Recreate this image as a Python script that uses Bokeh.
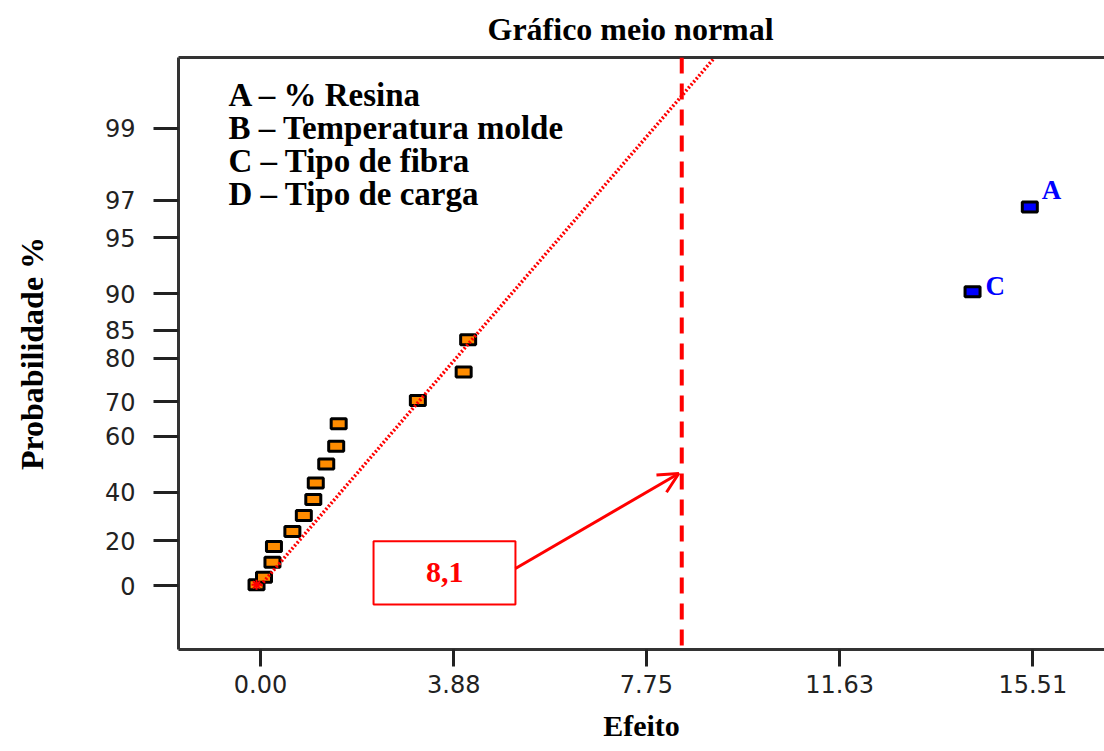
from statistics import NormalDist
from bokeh.plotting import figure
from bokeh.models import (Range1d, FixedTicker, LinearAxis, Label, Span, Arrow, OpenHead,
                          BoxAnnotation, ColumnDataSource, PrintfTickFormatter, CustomJSTickFormatter)
from bokeh.embed import file_html
from bokeh.resources import INLINE

# ---------------- data ----------------
effects = [-0.08, 0.07, 0.24, 0.27, 0.64, 0.87, 1.06, 1.11, 1.32, 1.52, 1.57, 3.16, 4.08, 4.17]
probs = [0.3, 3.7, 10.4, 17.4, 23.9, 30.7, 37.2, 43.6, 50.6, 56.7, 63.8, 70.3, 77.1, 83.4]

sig_names = ["A", "C"]
sig_effects = [15.45, 14.30]
sig_probs = [96.7, 90.2]

fit_effects = [0.0, 9.10]
fit_probs = [0.0, 99.7]

threshold = 8.46
threshold_label = "8,1"

y_tick_probs = [0, 20, 40, 60, 70, 80, 85, 90, 95, 97, 99]
x_ticks = [0.00, 3.88, 7.75, 11.63, 15.51]

title_text = "Gr\u00e1fico meio normal"
legend_lines = ["A \u2013 % Resina", "B \u2013 Temperatura molde",
                "C \u2013 Tipo de fibra", "D \u2013 Tipo de carga"]

# ---------------- half-normal probability scale ----------------
nd = NormalDist()


def hn(p):
    return nd.inv_cdf(0.5 + p / 200.0)


SERIF = "Liberation Serif"

p = figure(width=1104, height=751,
           x_range=Range1d(-1.647, 16.95), y_range=Range1d(-0.3606, 2.975),
           output_backend="svg", toolbar_location=None,
           min_border_left=178, min_border_right=0, min_border_top=57, min_border_bottom=102,
           background_fill_color="white", border_fill_color="white")
p.outline_line_color = None
p.grid.visible = False

# title
p.title.text = title_text
p.title.align = "left"
p.title.offset = 309
p.title.vertical_align = "top"
p.title.text_font = SERIF
p.title.text_font_style = "bold"
p.title.text_font_size = "32px"
p.title.text_color = "black"
if "standoff" in p.title.properties():
    p.title.standoff = 18

# x axis
xa = p.xaxis[0]
xa.ticker = FixedTicker(ticks=x_ticks)
xa.formatter = PrintfTickFormatter(format="%.2f")
xa.major_tick_out = 17
xa.major_tick_in = 0
xa.major_tick_line_width = 3
xa.major_tick_line_color = "#222222"
xa.minor_tick_line_color = None
xa.axis_line_width = 3
xa.axis_line_color = "#333333"
xa.major_label_standoff = 8
xa.major_label_text_font = "DejaVu Sans"
xa.major_label_text_font_size = "24px"
xa.major_label_text_color = "#222222"
xa.axis_label = "Efeito"
xa.axis_label_text_font = SERIF
xa.axis_label_text_font_style = "bold"
xa.axis_label_text_font_size = "30px"
xa.axis_label_text_color = "black"
xa.axis_label_standoff = 13

# y axis (half-normal)
y_tick_pos = [hn(v) for v in y_tick_probs]
ya = p.yaxis[0]
ya.ticker = FixedTicker(ticks=y_tick_pos)
ya.formatter = CustomJSTickFormatter(
    args=dict(tpos=y_tick_pos, tlab=[str(v) for v in y_tick_probs]),
    code="""
    for (let i = 0; i < tpos.length; i++) {
        if (Math.abs(tpos[i] - tick) < 1e-6) { return tlab[i]; }
    }
    return '';
    """)
ya.major_tick_out = 25
ya.major_tick_in = 0
ya.major_tick_line_width = 3
ya.major_tick_line_color = "#222222"
ya.minor_tick_line_color = None
ya.axis_line_width = 3
ya.axis_line_color = "#333333"
ya.major_label_standoff = 18
ya.major_label_text_font = "DejaVu Sans"
ya.major_label_text_font_size = "24px"
ya.major_label_text_color = "#222222"
ya.axis_label = "Probabilidade %"
ya.axis_label_text_font = SERIF
ya.axis_label_text_font_style = "bold"
ya.axis_label_text_font_size = "32px"
ya.axis_label_text_color = "black"
ya.axis_label_standoff = 52

# top border line
top = LinearAxis(ticker=FixedTicker(ticks=[]), major_tick_out=0, major_tick_in=0,
                 minor_tick_out=0, minor_tick_in=0, major_label_text_font_size="0px",
                 axis_line_width=3, axis_line_color="#333333")
p.add_layout(top, "above")

# points
src = ColumnDataSource(dict(x=effects, y=[hn(v) for v in probs]))
p.rect("x", "y", width=15, height=10, width_units="screen", height_units="screen",
       fill_color="#FF8C00", line_color="black", line_width=3, source=src)

sig_src = ColumnDataSource(dict(x=sig_effects, y=[hn(v) for v in sig_probs], name=sig_names))
p.rect("x", "y", width=15, height=10, width_units="screen", height_units="screen",
       fill_color="#0000FF", line_color="black", line_width=3, source=sig_src)

# fitted line
p.line(fit_effects, [hn(v) for v in fit_probs], line_color="red", line_width=3.5, line_dash="2 2")
p.scatter([effects[0]], [hn(probs[0])], marker="asterisk", size=10, line_color="red", line_width=2)

# labels for significant effects
label_offsets = {"A": (12, 17), "C": (13, 6)}
for nm, ex, pr in zip(sig_names, sig_effects, sig_probs):
    dx, dy = label_offsets[nm]
    p.add_layout(Label(x=ex, y=hn(pr), text=nm, x_offset=dx, y_offset=dy,
                       text_font=SERIF, text_font_style="bold", text_font_size="27px",
                       text_color="#0000FF", text_baseline="middle"))

# threshold line
p.add_layout(Span(location=threshold, dimension="height", line_color="red",
                  line_width=4, line_dash="16 10"))

# box with value and arrow
p.add_layout(BoxAnnotation(left=2.27, right=5.12, bottom=-0.107, top=0.25,
                           fill_color="white", fill_alpha=1.0,
                           line_color="red", line_width=2, line_alpha=1.0))
p.add_layout(Label(x=3.70, y=0.073, text=threshold_label, text_align="center",
                   text_baseline="middle", text_font=SERIF, text_font_style="bold",
                   text_font_size="30px", text_color="red"))
p.add_layout(Arrow(end=OpenHead(size=20, line_color="red", line_width=3),
                   x_start=5.12, y_start=0.096, x_end=8.40, y_end=0.631,
                   line_color="red", line_width=3))

# legend text
legend_y = [2.761, 2.580, 2.394, 2.208]
for txt, ly in zip(legend_lines, legend_y):
    p.add_layout(Label(x=-0.643, y=ly, text=txt, text_font=SERIF, text_font_style="bold",
                       text_font_size="33px", text_color="black", text_baseline="middle"))

open("out.html", "w").write(file_html(p, INLINE))
